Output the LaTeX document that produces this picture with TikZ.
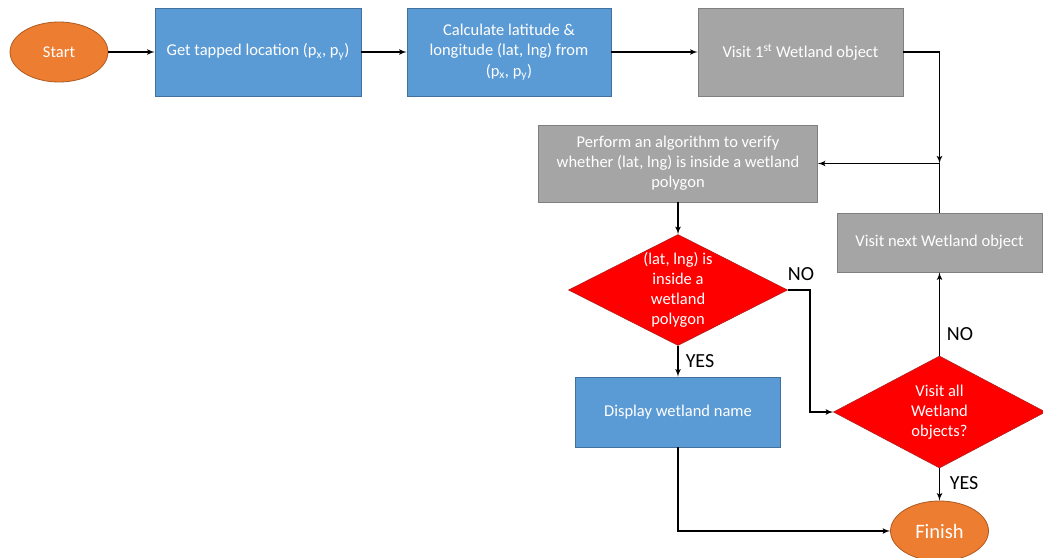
\documentclass[tikz,border=0pt]{standalone}
\usepackage{fontspec}
\setmainfont{Carlito}
\usepackage{tikz}
\usetikzlibrary{arrows,shapes.geometric}

\definecolor{termfill}{HTML}{ED7D31}
\definecolor{termdraw}{HTML}{AE5A21}
\definecolor{bluefill}{HTML}{5B9BD5}
\definecolor{bluedraw}{HTML}{41719C}
\definecolor{grayfill}{HTML}{A5A5A5}
\definecolor{graydraw}{HTML}{7F7F7F}
\definecolor{decfill}{HTML}{FF0000}
\definecolor{decdraw}{HTML}{B02020}

\begin{document}
\begin{tikzpicture}[x=1pt,y=-1pt,>=latex',line width=1.6pt]
	\tikzstyle{terminal}=[ellipse,fill=termfill,draw=termdraw,line width=0.8pt,text=white,minimum width=98pt,minimum height=60pt,inner sep=0pt,font=\fontsize{16.5}{20}\selectfont]
	\tikzstyle{stepblue}=[rectangle,fill=bluefill,draw=bluedraw,line width=0.8pt,text=white,align=center,inner sep=0pt,font=\fontsize{16.5}{20.5}\selectfont]
	\tikzstyle{stepgray}=[stepblue,fill=grayfill,draw=graydraw]
	\tikzstyle{decision}=[diamond,fill=decfill,draw=decdraw,line width=0.6pt,text=white,align=center,inner sep=0pt,shape aspect=2,font=\fontsize{16.5}{20}\selectfont]
	\tikzstyle{answer}=[text=black,inner sep=0pt,font=\fontsize{20}{24}\selectfont]

	\useasboundingbox (0,0) rectangle (1043,557);

	\node[terminal] (start) at (59,52) {Start};
	\node[stepblue,minimum width=206pt,minimum height=88pt] (getloc) at (258,52) {Get tapped location (p\textsubscript{x}, p\textsubscript{y})};
	\node[stepblue,minimum width=204pt,minimum height=88pt] (calc) at (509,52) {Calculate latitude \&\\longitude (lat, lng) from\\(p\textsubscript{x}, p\textsubscript{y})};
	\node[stepgray,minimum width=205pt,minimum height=88pt] (visit1) at (800.5,52) {Visit 1\textsuperscript{st} Wetland object};

	\node[stepgray,minimum width=279pt,minimum height=77pt,font=\fontsize{16.5}{20}\selectfont] (perform) at (678,163.5) {Perform an algorithm to verify\\whether (lat, lng) is inside a wetland\\polygon};
	\node[stepgray,minimum width=205pt,minimum height=59pt] (visitnext) at (939.5,242.5) {Visit next Wetland object};

	\node[decision,minimum width=219pt,minimum height=111pt] (inside) at (678,290) {(lat, lng) is\\inside a\\wetland\\polygon};
	\node[stepblue,minimum width=205pt,minimum height=70pt] (display) at (678,412) {Display wetland name};
	\node[decision,minimum width=212pt,minimum height=112pt] (visitall) at (939.5,412) {Visit all\\Wetland\\objects?};
	\node[terminal,font=\fontsize{20.5}{24}\selectfont] (finish) at (939.5,531) {Finish};

	\node[answer] (no1) at (801,274) {NO};
	\node[answer] (yes1) at (700,361) {YES};
	\node[answer] (no2) at (960,334) {NO};
	\node[answer] (yes2) at (964,483) {YES};

	\coordinate (join) at (visitnext.north |- perform.east);

	\path [->] (start) edge (getloc)
	(getloc) edge (calc)
	(calc) edge (visit1)
	(perform) edge (inside)
	(inside) edge (display)
	(visitall) edge (visitnext)
	(visitall) edge (finish);

	\draw[->] (visit1.east) -| (join);
	\draw[->] (visitnext.north) |- (perform.east);
	\draw[->] (inside.east) -- ++(22,0) |- (visitall.west);
	\draw[->] (display.south) |- (finish.west);
\end{tikzpicture}
\end{document}
